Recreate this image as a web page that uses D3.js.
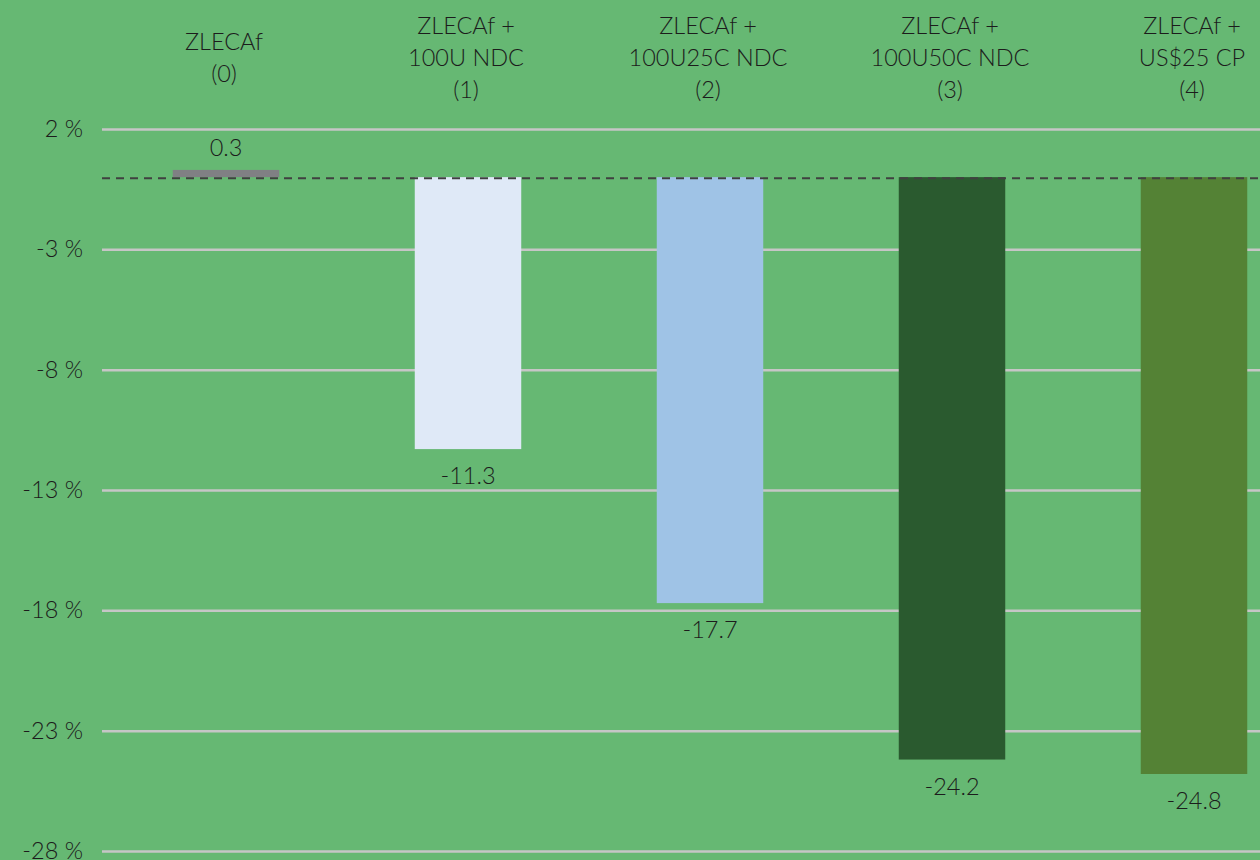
<!DOCTYPE html>
<html>
<head>
<meta charset="utf-8">
<script src="https://cdn.jsdelivr.net/npm/d3@7"></script>
<style>
  body { margin: 0; background: #66b873; }
  svg text { font-family: Lato, "Open Sans", sans-serif; font-weight: 300; fill: #1c1c1c; }
</style>
</head>
<body>
<div id="chart"></div>
<script>
// scenario labels (one entry per line), values in %
var categories = [
  ["ZLECAf", "(0)"],
  ["ZLECAf +", "100U NDC", "(1)"],
  ["ZLECAf +", "100U25C NDC", "(2)"],
  ["ZLECAf +", "100U50C NDC", "(3)"],
  ["ZLECAf +", "US$25 CP", "(4)"]
];
var values = [0.3, -11.3, -17.7, -24.2, -24.8];
var valueLabels = ["0.3", "-11.3", "-17.7", "-24.2", "-24.8"];
var barColors = ["#808084", "#dfe9f7", "#9fc3e6", "#2a5a2f", "#548235"];
var yTicks = [2, -3, -8, -13, -18, -23, -28];

var width = 1260, height = 860;
var fontSize = 23.5;

var svg = d3.select("#chart").append("svg")
  .attr("width", width)
  .attr("height", height);

svg.append("rect")
  .attr("width", width)
  .attr("height", height)
  .attr("fill", "#66b873");

var x = d3.scaleBand()
  .domain(d3.range(categories.length))
  .range([105, 1315])
  .paddingInner(0.56)
  .paddingOuter(0.28);

var y = d3.scaleLinear()
  .domain([-28, 2])
  .range([851, 129]);

// gridlines + tick labels
var yAxis = svg.append("g")
  .attr("transform", "translate(102,0)")
  .call(d3.axisLeft(y)
    .tickValues(yTicks)
    .tickSize(-(width - 102))
    .tickPadding(19)
    .tickFormat(d => d + " %"));

yAxis.select(".domain").remove();
yAxis.selectAll(".tick line")
  .attr("stroke", "#c6c6c6")
  .attr("stroke-width", 2.5);
yAxis.selectAll(".tick text")
  .attr("font-size", fontSize)
  .attr("fill", "#1c1c1c")
  .style("font-family", "Lato, 'Open Sans', sans-serif")
  .style("font-weight", 300);

// bars
svg.selectAll(".bar")
  .data(values)
  .enter().append("rect")
    .attr("class", "bar")
    .attr("x", (d, i) => x(i))
    .attr("width", x.bandwidth())
    .attr("y", d => y(Math.max(0, d)))
    .attr("height", d => Math.abs(y(d) - y(0)))
    .attr("fill", (d, i) => barColors[i]);

// zero line
svg.append("line")
  .attr("x1", 102)
  .attr("x2", width)
  .attr("y1", y(0) + 1)
  .attr("y2", y(0) + 1)
  .attr("stroke", "#404040")
  .attr("stroke-width", 2)
  .attr("stroke-dasharray", "8,6");

// value labels
svg.selectAll(".val")
  .data(values)
  .enter().append("text")
    .attr("class", "val")
    .attr("x", (d, i) => x(i) + x.bandwidth() / 2)
    .attr("y", d => d >= 0 ? y(d) - 22 : y(d) + 27)
    .attr("dy", "0.35em")
    .attr("text-anchor", "middle")
    .attr("font-size", fontSize)
    .text((d, i) => valueLabels[i]);

// category labels on top
var cat = svg.selectAll(".cat")
  .data(categories)
  .enter().append("text")
    .attr("class", "cat")
    .attr("text-anchor", "middle")
    .attr("font-size", fontSize)
    .attr("transform", (d, i) => "translate(" + (x(i) + x.bandwidth() / 2 - 2) + ",0)");

cat.selectAll("tspan")
  .data(d => d.map((t, j) => ({t: t, j: j, n: d.length})))
  .enter().append("tspan")
    .attr("x", 0)
    .attr("y", d => 58 + (d.j - (d.n - 1) / 2) * 32)
    .attr("dy", "0.35em")
    .text(d => d.t);
</script>
</body>
</html>
